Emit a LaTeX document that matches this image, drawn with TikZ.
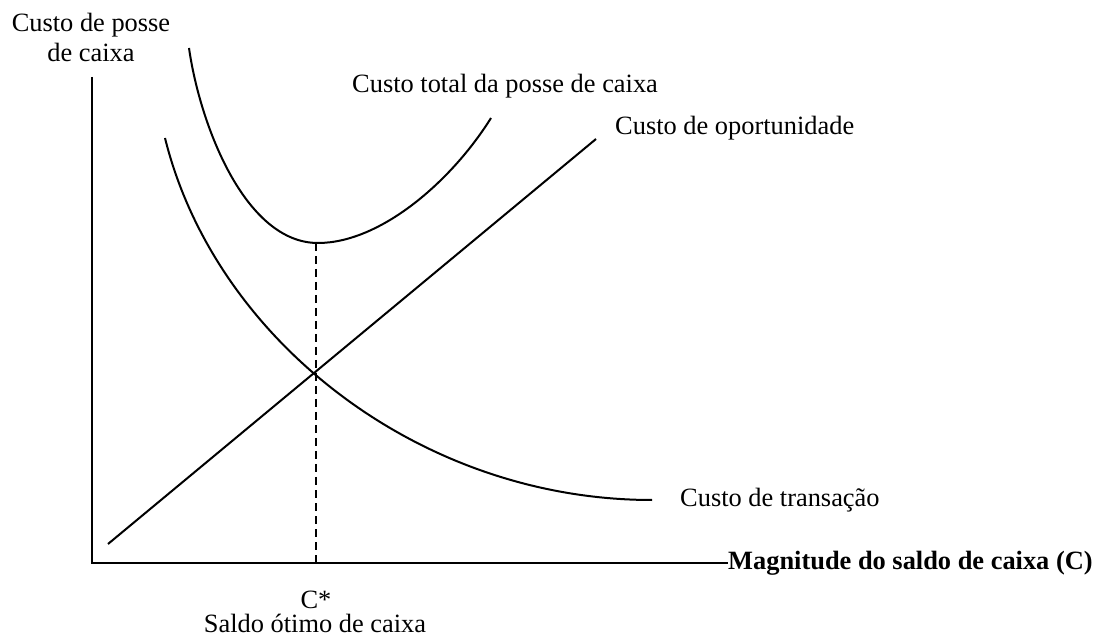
\documentclass[tikz,border=0pt]{standalone}
\usepackage{fontspec}
\setmainfont{Liberation Serif}
\begin{document}
\begin{tikzpicture}[x=1pt,y=-1pt,
  lbl/.style={inner sep=0pt,font=\fontsize{26.4}{30}\selectfont},
  axisline/.style={line width=2.4pt},
  curve/.style={line width=2pt},
  guide/.style={line width=2pt,dash pattern=on 8pt off 5pt}]
\useasboundingbox (0,0) rectangle (1096,636);
% axes
\coordinate (origin) at (92,563);
\coordinate (ytop) at (92,77);
\node[lbl,anchor=base west,font=\fontsize{26.4}{30}\selectfont\bfseries] (mag) at (728,569) {Magnitude do saldo de caixa (C)};
\draw[axisline] (ytop) -- (origin) -- (mag.west |- origin);
% y-axis label
\node[lbl,anchor=base] (ylab1) at (91,32) {Custo de posse};
\node[lbl,anchor=base] (ylab2) at (91,62) {de caixa};
% opportunity cost
\coordinate (opA) at (108,544);
\coordinate (opB) at (596,139);
\draw[curve] (opA) -- (opB);
\node[lbl,anchor=base west] (oplab) at (615,135) {Custo de oportunidade};
% transaction cost
\coordinate (trA) at (165,138);
\coordinate (trB) at (652,500);
\draw[curve] (trA) .. controls (215,340) and (420,500) .. (trB);
\node[lbl,anchor=base west] (trlab) at (680,506) {Custo de transação};
% total cost
\coordinate (toA) at (189,48);
\coordinate (tomin) at (318,243);
\coordinate (toB) at (491,118);
\draw[curve] (toA) .. controls (200,125) and (245,243) .. (tomin)
  .. controls (380,243) and (451,182) .. (toB);
\node[lbl,anchor=base west] (tolab) at (352,93) {Custo total da posse de caixa};
% optimum
\coordinate (optop) at (316,243);
\draw[guide] (optop) -- (optop |- origin);
\node[lbl,anchor=base] (cstar) at (316,608) {C*};
\node[lbl,anchor=base] (saldo) at (315,632) {Saldo ótimo de caixa};
\end{tikzpicture}
\end{document}
